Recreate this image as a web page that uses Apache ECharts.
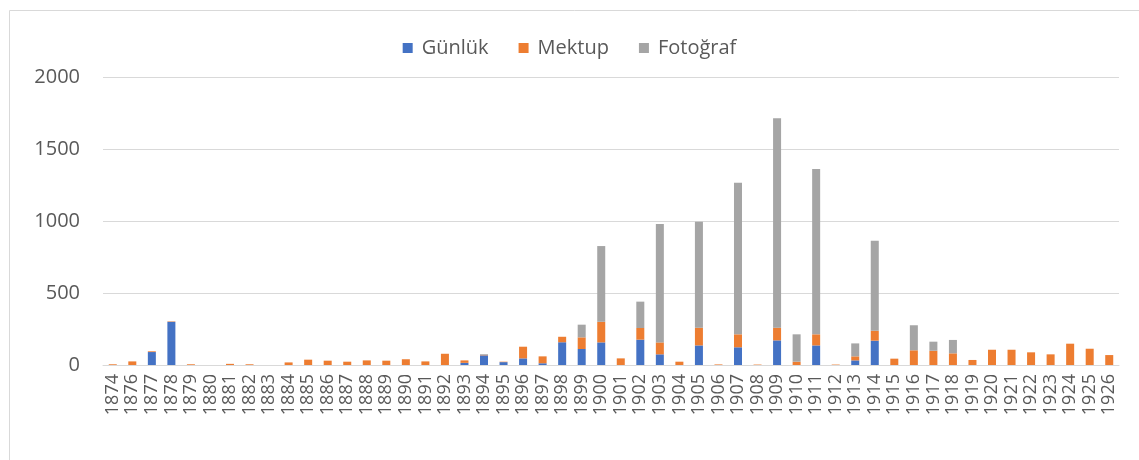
<html>
    <head>
        <meta charset="utf-8">
        <script src="https://cdn.jsdelivr.net/npm/echarts@6/dist/echarts.min.js"></script>
    </head>
    <body>
        <style>
            html, body, #main {
                width: 100%;
                height: 100%;
                margin: 0;
                background: #fff;
            }
        </style>
        <div id="main"></div>
        <script>

        var years = ['1874', '1876', '1877', '1878', '1879', '1880', '1881', '1882', '1883', '1884',
            '1885', '1886', '1887', '1888', '1889', '1890', '1891', '1892', '1893', '1894',
            '1895', '1896', '1897', '1898', '1899', '1900', '1901', '1902', '1903', '1904',
            '1905', '1906', '1907', '1908', '1909', '1910', '1911', '1912', '1913', '1914',
            '1915', '1916', '1917', '1918', '1919', '1920', '1921', '1922', '1923', '1924',
            '1925', '1926'];

        var gunluk = [0, 0, 90, 300, 0, 0, 0, 0, 0, 0,
            0, 0, 0, 0, 0, 0, 0, 0, 15, 67,
            20, 46, 12, 158, 111, 157, 0, 176, 74, 0,
            136, 0, 123, 0, 171, 0, 136, 0, 32, 169,
            0, 0, 0, 0, 0, 0, 0, 0, 0, 0,
            0, 0];

        var mektup = [5, 25, 5, 3, 5, 0, 8, 5, 0, 18,
            37, 30, 23, 32, 30, 40, 25, 78, 17, 3,
            3, 81, 48, 38, 81, 143, 46, 81, 83, 23,
            123, 4, 90, 3, 88, 23, 77, 3, 28, 69,
            44, 102, 99, 81, 35, 106, 106, 88, 74, 148,
            113, 69];

        var fotograf = [0, 0, 0, 0, 0, 0, 0, 0, 0, 0,
            0, 0, 0, 0, 0, 0, 0, 0, 0, 5,
            0, 0, 0, 0, 88, 526, 0, 183, 822, 0,
            736, 0, 1053, 0, 1454, 190, 1148, 0, 90, 625,
            0, 174, 63, 93, 0, 0, 0, 0, 0, 0,
            0, 0];

        var yTicks = { min: 0, max: 2000, interval: 500 };

        var font = 'Open Sans, Noto Sans, sans-serif';
        var chart = echarts.init(document.getElementById('main'));

        chart.setOption({
            animation: false,
            textStyle: { fontFamily: font },
            graphic: [{
                type: 'rect',
                left: 7,
                top: 8,
                shape: { width: 1200, height: 600 },
                style: { fill: 'none', stroke: '#d9d9d9', lineWidth: 1 }
            }],
            legend: {
                top: 33,
                left: 'center',
                itemWidth: 10,
                itemHeight: 10,
                itemGap: 30,
                icon: 'rect',
                textStyle: { fontSize: 20, color: '#595959', fontFamily: font, padding: [0, 0, 0, 4] },
                data: ['Günlük', 'Mektup', 'Fotoğraf']
            },
            grid: {
                left: 103,
                right: 20,
                top: 77,
                bottom: 95
            },
            xAxis: {
                type: 'category',
                data: years,
                axisLine: { lineStyle: { color: '#d9d9d9' } },
                axisTick: { show: false },
                axisLabel: {
                    interval: 0,
                    rotate: 90,
                    margin: 9,
                    fontSize: 18,
                    color: '#595959',
                    fontFamily: font
                }
            },
            yAxis: {
                type: 'value',
                min: yTicks.min,
                max: yTicks.max,
                interval: yTicks.interval,
                axisLine: { show: false },
                axisTick: { show: false },
                splitLine: { lineStyle: { color: '#d9d9d9' } },
                axisLabel: {
                    margin: 23,
                    fontSize: 20,
                    color: '#595959',
                    fontFamily: font,
                    formatter: function (v) { return String(v); }
                }
            },
            series: [
                {
                    name: 'Günlük',
                    type: 'bar',
                    stack: 'total',
                    barCategoryGap: '59%',
                    itemStyle: { color: '#4472c4' },
                    data: gunluk
                },
                {
                    name: 'Mektup',
                    type: 'bar',
                    stack: 'total',
                    itemStyle: { color: '#ed7d31' },
                    data: mektup
                },
                {
                    name: 'Fotoğraf',
                    type: 'bar',
                    stack: 'total',
                    itemStyle: { color: '#a5a5a5' },
                    data: fotograf
                }
            ]
        });

        </script>
    </body>
</html>
